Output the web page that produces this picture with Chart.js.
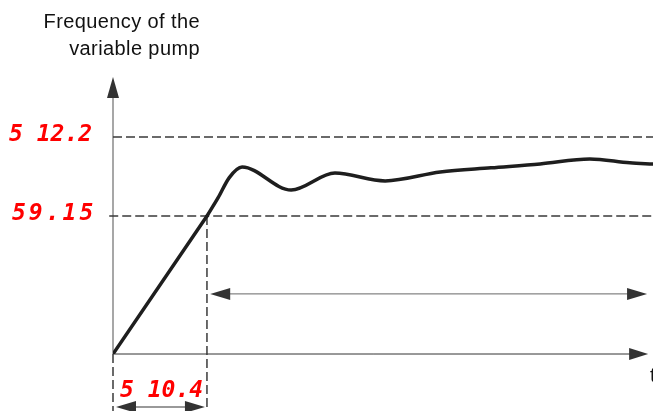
<!DOCTYPE html>
<html>
<head>
<meta charset="utf-8">
<script src="https://cdn.jsdelivr.net/npm/chart.js@4/dist/chart.umd.min.js"></script>
<style>
  html, body { margin: 0; padding: 0; background: #fff; }
  #wrap { width: 653px; height: 411px; }
</style>
</head>
<body>
<div id="wrap"><canvas id="myChart" width="653" height="411"></canvas></div>
<script>
// time (arbitrary units, 0..100) and pump frequency (arbitrary units, 0..100)
// straight acceleration ramp
const rampTime = [0, 17.4];
const rampFreq = [0, 49.8];
// settling response after the ramp
const respTime = [17.4, 19.5, 21.5, 23.9, 33.0, 41.1, 50.4, 60.6, 70.0, 79.1, 88.3, 95.7, 100];
const respFreq = [49.8, 56.5, 63.6, 67.5, 59.2, 65.3, 62.5, 65.7, 67.2, 68.6, 70.4, 69.0, 68.6];

// dashed reference levels and their parameter codes
const levelVals = [78.3, 49.8];
const levelStart = [0, -0.7];
const levelLabels = ['5 12.2', '59.15'];

// ramp time marker
const rampEnd = 17.4;
const rampLabel = '5 10.4';
const belowAxis = -20.6;     // how far the dimension lines run below the time axis
const dimArrowY = -19.1;
const spanArrowY = 21.7;
const spanArrowX = [18.0, 98.9];
const timeArrowEnd = 99.1;

const yTitle = ['Frequency of the', 'variable pump'];
const xTitle = 't';

const dashCol = '#3a3a3a';

function pts(xs, ys) { return xs.map((x, i) => ({ x: x, y: ys[i] })); }

const datasets = [{
  data: pts(rampTime, rampFreq),
  borderColor: '#1e1e1e', borderWidth: 3.5, pointRadius: 0, tension: 0,
  borderCapStyle: 'round'
}, {
  data: pts(respTime, respFreq),
  borderColor: '#1e1e1e', borderWidth: 3.5, pointRadius: 0,
  cubicInterpolationMode: 'monotone', borderCapStyle: 'round'
}];
levelVals.forEach((v, i) => {
  datasets.push({
    data: [{ x: levelStart[i], y: v }, { x: 100, y: v }],
    borderColor: dashCol, borderWidth: 1.5, borderDash: [9, 4],
    pointRadius: 0, clip: false
  });
});
datasets.push({
  data: [{ x: rampEnd, y: levelVals[1] }, { x: rampEnd, y: belowAxis }],
  borderColor: dashCol, borderWidth: 1.5, borderDash: [9, 4], pointRadius: 0, clip: false
});
datasets.push({
  data: [{ x: 0, y: 0 }, { x: 0, y: belowAxis }],
  borderColor: dashCol, borderWidth: 1.5, borderDash: [9, 4], pointRadius: 0, clip: false
});

function arrowHead(ctx, x, y, dir, len, half, col) {
  ctx.fillStyle = col;
  ctx.beginPath();
  if (dir === 'up') { ctx.moveTo(x, y); ctx.lineTo(x - half, y + len); ctx.lineTo(x + half, y + len); }
  if (dir === 'right') { ctx.moveTo(x, y); ctx.lineTo(x - len, y - half); ctx.lineTo(x - len, y + half); }
  if (dir === 'left') { ctx.moveTo(x, y); ctx.lineTo(x + len, y - half); ctx.lineTo(x + len, y + half); }
  ctx.closePath();
  ctx.fill();
}

const diagram = {
  id: 'diagram',
  beforeDatasetsDraw(chart) {
    const ctx = chart.ctx, xs = chart.scales.x, ys = chart.scales.y;
    const x0 = xs.getPixelForValue(0), y0 = ys.getPixelForValue(0);
    ctx.save();
    // frequency axis
    ctx.strokeStyle = '#8a8a8a'; ctx.lineWidth = 1.5;
    ctx.beginPath(); ctx.moveTo(x0, y0); ctx.lineTo(x0, ys.getPixelForValue(100) + 18); ctx.stroke();
    arrowHead(ctx, x0, ys.getPixelForValue(100), 'up', 21, 6, '#333');
    // time axis
    const tx = xs.getPixelForValue(timeArrowEnd);
    ctx.strokeStyle = '#333'; ctx.lineWidth = 1;
    ctx.beginPath(); ctx.moveTo(x0, y0); ctx.lineTo(tx - 15, y0); ctx.stroke();
    arrowHead(ctx, tx, y0, 'right', 19, 6, '#333');
    // span arrow
    const sy = ys.getPixelForValue(spanArrowY);
    const sa = xs.getPixelForValue(spanArrowX[0]), sb = xs.getPixelForValue(spanArrowX[1]);
    ctx.strokeStyle = '#666'; ctx.lineWidth = 1;
    ctx.beginPath(); ctx.moveTo(sa + 10, sy); ctx.lineTo(sb - 10, sy); ctx.stroke();
    arrowHead(ctx, sa, sy, 'left', 20, 6, '#333');
    arrowHead(ctx, sb, sy, 'right', 20, 6, '#333');
    // ramp dimension arrow
    const dy = ys.getPixelForValue(dimArrowY);
    const da = xs.getPixelForValue(0) + 3, db = xs.getPixelForValue(rampEnd) - 2;
    ctx.strokeStyle = '#777'; ctx.lineWidth = 1.5;
    ctx.beginPath(); ctx.moveTo(da + 10, dy); ctx.lineTo(db - 10, dy); ctx.stroke();
    arrowHead(ctx, da, dy, 'left', 20, 6, '#333');
    arrowHead(ctx, db, dy, 'right', 20, 6, '#333');
    ctx.restore();
  },
  afterDatasetsDraw(chart) {
    const ctx = chart.ctx, ys = chart.scales.y;
    ctx.save();
    ctx.fillStyle = '#111';
    ctx.font = '20px "Liberation Sans", Arial, sans-serif';
    ctx.letterSpacing = '0.4px';
    ctx.textAlign = 'right';
    ctx.textBaseline = 'alphabetic';
    ctx.fillText(yTitle[0], 200, 28);
    ctx.fillText(yTitle[1], 200, 55);
    ctx.letterSpacing = '0px';
    ctx.textAlign = 'left';
    ctx.fillText(xTitle, 650, 382);
    // red parameter codes
    ctx.fillStyle = '#ff0000';
    ctx.font = 'italic bold 23px "DejaVu Sans Mono", monospace';
    ctx.textBaseline = 'middle';
    ctx.fillText(levelLabels[0], 9, ys.getPixelForValue(levelVals[0]) - 2);
    ctx.letterSpacing = '3px';
    ctx.fillText(levelLabels[1], 12, ys.getPixelForValue(levelVals[1]) - 2);
    ctx.letterSpacing = '0px';
    ctx.fillText(rampLabel, 120, 391);
    ctx.restore();
  }
};

new Chart(document.getElementById('myChart').getContext('2d'), {
  type: 'line',
  data: { datasets: datasets },
  options: {
    responsive: false,
    animation: false,
    devicePixelRatio: 1,
    layout: { padding: { left: 113, right: 0, top: 77, bottom: 57 } },
    plugins: { legend: { display: false }, tooltip: { enabled: false } },
    scales: {
      x: { type: 'linear', min: 0, max: 100, display: false },
      y: { type: 'linear', min: 0, max: 100, display: false }
    }
  },
  plugins: [diagram]
});
</script>
</body>
</html>
